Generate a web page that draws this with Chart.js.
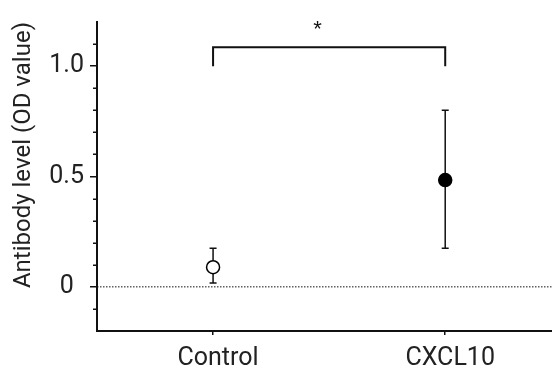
<!DOCTYPE html>
<html><head><meta charset="utf-8">
<script src="https://cdn.jsdelivr.net/npm/chart.js@4"></script>
<style>html,body{margin:0;padding:0;background:#fff}#wrap{width:552px;height:368px}</style>
</head><body><div id="wrap"><canvas id="c" width="552" height="368"></canvas></div>
<script>
const categories = ['Control', 'CXCL10'];
const means = [0.089, 0.484];
const errLow = [0.018, 0.175];
const errHigh = [0.175, 0.80];
const majorTicks = [0, 0.5, 1.0];
const majorTickLabels = ['0', '0.5', '1.0'];
const minorTicks = [-0.1, 0.1, 0.2, 0.3, 0.4, 0.6, 0.7, 0.8, 0.9, 1.1];
const bracketX = [0, 1];
const bracketY = [1.0, 1.086];
const sigMark = '*';
const sigPos = [0.45, 1.19];
const yTitle = 'Antibody level (OD value)';

const FONT = 'Roboto, "Liberation Sans", Arial, sans-serif';
const INK = '#222222';

const overlay = {
  id: 'overlay',
  beforeDatasetsDraw(chart) {
    const ctx = chart.ctx, xs = chart.scales.x, ys = chart.scales.y;
    ctx.save();
    ctx.strokeStyle = '#111';
    ctx.lineWidth = 1.5;
    categories.forEach((c, i) => {
      const x = xs.getPixelForValue(i);
      const y1 = ys.getPixelForValue(errLow[i]);
      const y2 = ys.getPixelForValue(errHigh[i]);
      ctx.beginPath();
      ctx.moveTo(x, y1); ctx.lineTo(x, y2);
      ctx.moveTo(x - 3.5, y1); ctx.lineTo(x + 3.5, y1);
      ctx.moveTo(x - 3.5, y2); ctx.lineTo(x + 3.5, y2);
      ctx.stroke();
    });
    const bx1 = xs.getPixelForValue(bracketX[0]);
    const bx2 = xs.getPixelForValue(bracketX[1]);
    const by1 = ys.getPixelForValue(bracketY[0]);
    const by2 = ys.getPixelForValue(bracketY[1]);
    ctx.lineWidth = 2;
    ctx.beginPath();
    ctx.moveTo(bx1, by1); ctx.lineTo(bx1, by2); ctx.lineTo(bx2, by2); ctx.lineTo(bx2, by1);
    ctx.stroke();
    ctx.fillStyle = '#111';
    ctx.font = '22px "Liberation Sans", Arial, sans-serif';
    ctx.textAlign = 'center';
    ctx.textBaseline = 'middle';
    ctx.fillText(sigMark, xs.getPixelForValue(sigPos[0]), ys.getPixelForValue(sigPos[1]) + 6);
    ctx.restore();
  },
  afterDraw(chart) {
    const ctx = chart.ctx, ys = chart.scales.y;
    const left = chart.chartArea.left;
    ctx.save();
    ctx.strokeStyle = '#111';
    ctx.lineWidth = 1.5;
    ctx.beginPath();
    minorTicks.forEach(v => {
      const y = Math.round(ys.getPixelForValue(v)) + 0.25;
      ctx.moveTo(left - 4, y); ctx.lineTo(left, y);
    });
    ctx.stroke();
    ctx.restore();
  }
};

new Chart(document.getElementById('c'), {
  type: 'scatter',
  data: {
    datasets: [
      {
        data: means.map((m, i) => ({ x: i, y: m })),
        pointRadius: 6.5,
        pointHoverRadius: 6.5,
        pointBackgroundColor: ['#ffffff', '#000000'],
        pointBorderColor: '#000000',
        pointBorderWidth: 1.5,
        showLine: false,
        order: 0
      },
      {
        data: [{ x: -0.5, y: 0 }, { x: 1.46, y: 0 }],
        showLine: true,
        borderColor: '#111',
        borderWidth: 1,
        borderDash: [1.5, 1.5],
        pointRadius: 0,
        order: 1
      }
    ]
  },
  options: {
    responsive: false,
    devicePixelRatio: 1,
    animation: false,
    events: [],
    layout: { autoPadding: false, padding: { top: 22, right: 0, left: 0, bottom: 0 } },
    plugins: { legend: { display: false }, tooltip: { enabled: false } },
    scales: {
      x: {
        type: 'linear',
        min: -0.5,
        max: 1.46,
        afterBuildTicks: s => { s.ticks = categories.map((c, i) => ({ value: i })); },
        afterFit: s => { s.height = 37; s.paddingLeft = 0; s.paddingRight = 0; },
        ticks: {
          callback: v => categories[v],
          font: { size: 25, family: FONT, weight: 400 },
          color: INK,
          labelOffset: 5,
          padding: 9,
          maxRotation: 0,
          autoSkip: false
        },
        grid: { drawOnChartArea: false, tickLength: 4, color: '#111', lineWidth: 1.5 },
        border: { color: '#111', width: 2 }
      },
      y: {
        min: -0.2,
        max: 1.2,
        afterBuildTicks: s => { s.ticks = majorTicks.map(v => ({ value: v })); },
        afterFit: s => { s.width = 97; },
        ticks: {
          callback: v => majorTickLabels[majorTicks.indexOf(v)],
          font: { size: 25, family: FONT, weight: 400 },
          color: INK,
          crossAlign: 'center',
          padding: 6,
          autoSkip: false
        },
        grid: { drawOnChartArea: false, tickLength: 7, color: '#111', lineWidth: 1.5 },
        border: { color: '#111', width: 2 },
        title: {
          display: true,
          text: yTitle,
          align: 'end',
          font: { size: 24, family: FONT, weight: 400 },
          color: INK,
          padding: { top: 10, bottom: 0 }
        }
      }
    }
  },
  plugins: [overlay]
});
</script>
</body></html>
